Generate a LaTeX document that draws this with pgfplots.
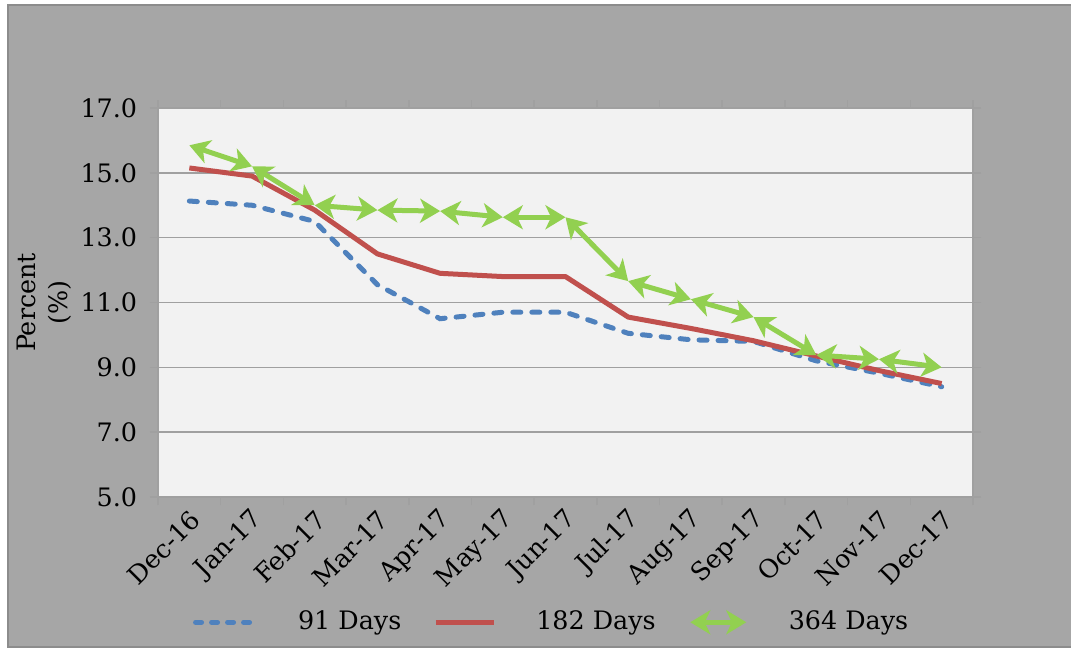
\documentclass[border=0pt]{standalone}
\usepackage{fontspec}
\setmainfont{DejaVu Serif}
\usepackage{pgfplots}
\pgfplotsset{compat=1.18}
\usepackage{pgfplotstable}
\usetikzlibrary{arrows.meta}
\definecolor{bgray}{HTML}{A6A6A6}
\definecolor{bordergray}{HTML}{8C8C8C}
\definecolor{plotbg}{HTML}{F2F2F2}
\definecolor{gridgray}{HTML}{A0A0A0}
\definecolor{sblue}{HTML}{4F81BD}
\definecolor{sred}{HTML}{C0504D}
\definecolor{sgreen}{HTML}{92D050}

% 91 Days
\pgfplotstableread{
x y
0 14.13
1 14.00
2 13.50
3 11.55
4 10.50
5 10.70
6 10.70
7 10.05
8 9.85
9 9.80
10 9.20
11 8.82
12 8.40
}\tblA
% 182 Days
\pgfplotstableread{
x y
0 15.15
1 14.90
2 13.85
3 12.50
4 11.90
5 11.80
6 11.80
7 10.55
8 10.20
9 9.82
10 9.35
11 8.90
12 8.50
}\tblB
% 364 Days: point and step to the next point
\pgfplotstableread{
x y u v
0 15.85 1 -0.65
1 15.20 1 -1.20
2 14.00 1 -0.15
3 13.85 1 -0.03
4 13.82 1 -0.19
5 13.63 1 0
6 13.63 1 -1.97
7 11.66 1 -0.56
8 11.10 1 -0.55
9 10.55 1 -1.17
10 9.38 1 -0.13
11 9.25 1 -0.25
}\tblC

\tikzset{
  gtip/.tip={Stealth[length=10pt,width=12pt,inset=2.8pt]},
}

\begin{document}
\fontsize{12.7pt}{15pt}\selectfont
\begin{tikzpicture}
\useasboundingbox (0,0) rectangle (535.5pt,324.5pt);
\fill[white] (0,0) rectangle (535.5pt,324.5pt);
\fill[bgray] (4pt,1pt) rectangle (535.5pt,322pt);
\draw[bordergray, line width=1.2pt] (535.5pt,322pt) -- (4pt,322pt) -- (4pt,1pt) -- (535.5pt,1pt);
\begin{axis}[
  at={(79pt,76pt)}, anchor=south west,
  scale only axis, width=407.5pt, height=194.5pt,
  xmin=-0.5, xmax=12.5, ymin=5, ymax=17,
  axis background/.style={fill=plotbg},
  axis line style={draw=gridgray, line width=0.8pt},
  ytick={5,7,...,17},
  xtick={0,...,12},
  minor xtick={-0.5,0.5,...,12.5},
  xticklabels={Dec-16,Jan-17,Feb-17,Mar-17,Apr-17,May-17,Jun-17,Jul-17,Aug-17,Sep-17,Oct-17,Nov-17,Dec-17},
  tick align=outside,
  major tick length=4pt,
  minor tick length=4pt,
  major x tick style={draw=none},
  minor x tick style={draw=gridgray, line width=0.8pt},
  major y tick style={draw=gridgray, line width=0.8pt},
  ymajorgrids,
  major grid style={draw=gridgray, line width=0.8pt},
  /pgf/number format/fixed,
  /pgf/number format/fixed zerofill,
  /pgf/number format/precision=1,
  /pgf/number format/assume math mode=true,
  yticklabel style={xshift=-2pt},
  xticklabel style={rotate=45, anchor=east, xshift=3pt, yshift=-6pt},
  ylabel={Percent\\(\%)},
  ylabel style={align=center, font=\fontsize{12.7pt}{16pt}\selectfont,
    at={(axis description cs:-0.139,0.5)}, anchor=center, rotate=0},
  legend columns=3,
  legend style={at={(axis description cs:0.483,-0.322)}, anchor=center, draw=none, fill=none,
    /tikz/every odd column/.append style={column sep=19pt},
    /tikz/every even column/.append style={column sep=15pt},
    nodes={inner sep=1pt}},
  clip=false,
]
\addplot[sblue, line width=2.5pt, dash pattern=on 4pt off 5.5pt, line cap=round,
  legend image code/.code={\draw[sblue, line width=2.5pt, line cap=round, dash pattern=on 3pt off 5pt] (0pt,0pt) -- (30pt,0pt);}]
  table[x=x,y=y] {\tblA};
\addlegendentry{91 Days}
\addplot[sred, line width=2.5pt, line join=round,
  legend image code/.code={\draw[sred, line width=2.5pt] (0pt,0pt) -- (29pt,0pt);}]
  table[x=x,y=y] {\tblB};
\addlegendentry{182 Days}
\addplot[sgreen, line width=2.5pt, gtip-gtip,
  quiver={u=\thisrow{u}, v=\thisrow{v}},
  legend image code/.code={\draw[sgreen, line width=2.5pt, gtip-gtip] (0pt,0pt) -- (28pt,0pt);}]
  table[x=x,y=y] {\tblC};
\addlegendentry{364 Days}
\end{axis}
\end{tikzpicture}
\end{document}
